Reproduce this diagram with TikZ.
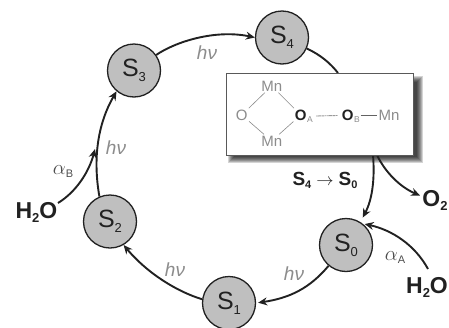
\documentclass[tikz,border=0pt]{standalone}
\usepackage{fontspec}
\setmainfont{Liberation Sans}
\usetikzlibrary{arrows.meta}
\definecolor{statefill}{gray}{0.75}
\definecolor{inkdark}{gray}{0.13}
\definecolor{faded}{gray}{0.55}
\tikzset{
  statenode/.style={circle, draw=inkdark, line width=1.3pt, fill=statefill, minimum size=53pt, inner sep=0pt, text=inkdark},
  flow/.style={draw=inkdark, line width=1.9pt, -{Stealth[length=9pt,width=8pt,inset=3pt]}},
  flowplain/.style={draw=inkdark, line width=1.9pt},
  species/.style={font=\fontsize{23}{23}\selectfont\bfseries, text=inkdark, inner sep=0pt},
  hnu/.style={font=\fontsize{19}{19}\selectfont\itshape, text=faded, inner sep=0pt},
  alphalab/.style={font=\fontsize{22}{22}\selectfont, text=inkdark!80, inner sep=0pt},
  atomgray/.style={font=\fontsize{15}{15}\selectfont, text=faded, inner sep=0pt, outer sep=1.5pt},
  atombold/.style={font=\fontsize{15}{15}\selectfont\bfseries, text=inkdark, inner sep=0pt, outer sep=1.5pt},
  atomsub/.style={font=\fontsize{8.5}{8.5}\selectfont, text=faded, inner sep=0pt},
  bondline/.style={faded, line width=0.6pt},
}
\newcommand{\sublab}[1]{\raisebox{-4pt}{\fontsize{13}{13}\selectfont #1}}
\newcommand{\smalllab}[1]{\raisebox{-3pt}{\fontsize{11}{11}\selectfont #1}}
\newcommand{\statelab}[1]{\fontsize{25}{25}\selectfont S\raisebox{-5pt}{\fontsize{13}{13}\selectfont #1}}
\begin{document}
\begin{tikzpicture}[x=1pt, y=-1pt]
    \useasboundingbox (0,0) rectangle (449,327);
    % Box shadow
    \foreach \grow in {4,3,2,1,0,-1,-2}
      \fill[black, opacity=0.17] (232-\grow,80-\grow) rectangle (419+\grow,159+\grow);
    % States
    \node[statenode] (s4) at (282,37.5) {\statelab{4}};
    \node[statenode] (s3) at (134,70.5) {\statelab{3}};
    \node[statenode] (s2) at (110,221.5) {\statelab{2}};
    \node[statenode] (s1) at (229,303) {\statelab{1}};
    \node[statenode] (s0) at (346,245) {\statelab{0}};
    % Water and oxygen
    \node[species] (h2oa) at (427,287) {H\sublab{2}O};
    \node[species] (h2ob) at (36.5,212) {H\sublab{2}O};
    \node[species] (o2) at (435,200) {O\sublab{2}};
    \coordinate (h2oatop) at (428,269);
    \coordinate (h2obtop) at (58,203);
    \coordinate (mergept) at (95,149);
    \coordinate (o2in) at (420,195.5);
    \coordinate (boxtop) at (338,73);
    \coordinate (boxbota) at (373,155);
    \coordinate (boxbotb) at (377,155);
    % Arrows around the cycle
    \draw[flow] (s3.35) .. controls (175,42) and (215,29) .. (s4.180);
    \draw[flow] (s2.113) .. controls (93,160) and (97,125) .. (s3.230);
    \draw[flow] (s1.172) .. controls (178,292) and (148,274) .. (s2.-60);
    \draw[flow, shorten >=2pt] (s0.-130) .. controls (310,288) and (290,298) .. (s1.0);
    \draw[flowplain] (s4.-24) .. controls (321,55) and (331,64) .. (boxtop);
    \draw[flow, shorten >=5pt] (boxbota) .. controls (375,180) and (372,200) .. (s0.58);
    \draw[flow, shorten >=2pt] (h2oatop) .. controls (415,245) and (392,230) .. (s0.52);
    \draw[flow] (h2obtop) .. controls (76,192) and (89,172) .. (mergept);
    \draw[flow] (boxbotb) .. controls (385,172) and (400,187) .. (o2in);
    % Box
    \draw[fill=white, draw=gray!70!black, line width=0.8pt] (226,73) rectangle (413,155);
    % Box contents
    \node[atomgray] (mnt) at (271.7,86) {Mn};
    \node[atomgray] (mnb) at (271.7,141) {Mn};
    \node[atomgray] (ol) at (241.7,115) {O};
    \node[atombold] (oa) at (300.7,115) {O};
    \node[atombold] (ob) at (347.7,115.5) {O};
    \node[atomgray] (mnr) at (389,115.5) {Mn};
    \node[atomsub] (suba) at (310,119.5) {A};
    \node[atomsub] (subb) at (357,119.5) {B};
    \draw[bondline] (ol) -- (mnt);
    \draw[bondline] (ol) -- (mnb);
    \draw[bondline] (oa) -- (mnt);
    \draw[bondline] (oa) -- (mnb);
    \draw[inkdark!70, line width=0.9pt, dash pattern=on 0.5pt off 0.6pt] ([xshift=3pt,yshift=3.5pt]suba.east) -- ([xshift=-3pt]ob.west);
    \draw[faded!70!black, line width=1.2pt] ([xshift=0.5pt,yshift=4pt]subb.east) -- (mnr.west);
    % Labels
    \node[hnu] (nu1) at (207,53) {hν};
    \node[hnu] (nu2) at (116,148) {hν};
    \node[hnu] (nu3) at (175,270) {hν};
    \node[hnu] (nu4) at (294,274) {hν};
    \node[alphalab] (aa) at (395,258) {$\alpha$\smalllab{A}};
    \node[alphalab] (ab) at (63,172) {$\alpha$\smalllab{B}};
    \node[font=\fontsize{19}{19}\selectfont\bfseries, text=inkdark, inner sep=0pt] (trans) at (325,180) {S\smalllab{4}\hspace{5pt}$\rightarrow$\hspace{5pt}S\smalllab{0}};
\end{tikzpicture}
\end{document}
